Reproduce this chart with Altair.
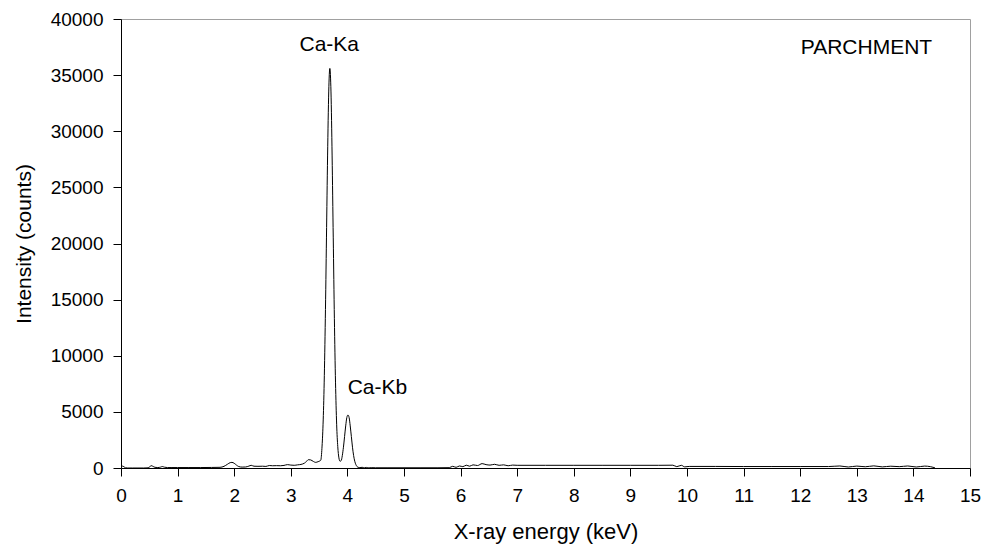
import altair as alt
import pandas as pd

energy = [
    0.02, 0.05, 0.08, 0.12, 0.2, 0.3, 0.4, 0.46, 0.50, 0.53, 0.56, 0.60, 0.65, 0.70, 0.73, 0.77, 0.82,
    0.9, 1.0, 1.2, 1.4, 1.6, 1.75, 1.82, 1.88, 1.93, 1.96, 2.00, 2.04, 2.08, 2.14, 2.2, 2.26, 2.30,
    2.35, 2.42, 2.5, 2.56, 2.62, 2.68, 2.75, 2.82, 2.88, 2.94, 3.0, 3.06, 3.12, 3.18, 3.24, 3.28,
    3.31, 3.35, 3.40, 3.44, 3.48, 3.51,
    3.53, 3.55, 3.57, 3.59, 3.61, 3.63, 3.65, 3.67, 3.69, 3.71, 3.73, 3.75, 3.77, 3.79, 3.81,
    3.83, 3.85, 3.87, 3.89, 3.91, 3.93, 3.95, 3.97, 3.99, 4.01, 4.03, 4.05, 4.07, 4.09, 4.11,
    4.13, 4.15, 4.17, 4.19, 4.22, 4.26, 4.30, 4.34, 4.38, 4.42, 4.5, 4.7, 5.0, 5.3, 5.6, 5.8,
    5.86, 5.92, 5.98, 6.04, 6.10, 6.16, 6.22, 6.30, 6.38, 6.45, 6.52, 6.60, 6.68, 6.76, 6.84, 6.92,
    7.0, 7.5, 8.0, 8.5, 9.0, 9.5, 9.75, 9.82, 9.90, 9.96, 10.04, 10.5, 11.0, 11.5, 12.0, 12.5,
    12.7, 12.85, 13.0, 13.15, 13.3, 13.45, 13.6, 13.75, 13.9, 14.05, 14.2, 14.3, 14.38,
]
counts = [
    180, 120, 20, 0, 0, 0, 0, 10, 60, 210, 160, 60, 40, 80, 130, 70, 40,
    40, 40, 40, 40, 50, 60, 150, 330, 480, 500, 420, 260, 130, 80, 90, 170, 240,
    160, 150, 160, 140, 220, 200, 210, 200, 230, 300, 260, 240, 280, 320, 430, 600,
    740, 720, 580, 500, 560, 620,
    700, 1750, 3900, 7650, 13300, 20500, 27800, 33500, 35600, 33500, 27800, 20500, 13300, 7650, 3900,
    1900, 900, 600, 660, 1100, 1850, 2800, 3750, 4500, 4720, 4500, 3750, 2800, 1850, 1100,
    600, 300, 130, 60, 30, 60, 20, 50, 10, 30, 20, 20, 20, 20, 20, 30,
    150, 60, 180, 120, 250, 160, 280, 220, 390, 300, 260, 330, 240, 280, 200, 260,
    240, 240, 240, 240, 240, 240, 250, 120, 240, 100, 140, 140, 130, 130, 130, 130,
    180, 90, 170, 110, 190, 100, 160, 120, 180, 90, 170, 120, 20,
]

df = pd.DataFrame({"energy": energy, "counts": counts})

label_text = ["Ca-Ka", "Ca-Kb", "PARCHMENT"]
label_x = [3.68, 4.53, 13.17]
label_y = [37700, 7150, 37400]
labels = pd.DataFrame({"t": label_text, "x": label_x, "y": label_y})

x_ticks = list(range(0, 16))
y_ticks = list(range(0, 40001, 5000))

FONT = "Liberation Sans"

xs = alt.Scale(domain=[0, 15], nice=False)
ys = alt.Scale(domain=[0, 40000], nice=False)

line = alt.Chart(df).mark_line(color="black", strokeWidth=1, interpolate="monotone").encode(
    x=alt.X("energy:Q", scale=xs,
            axis=alt.Axis(values=x_ticks, title="X-ray energy (keV)", grid=False,
                          format="d", labelFlush=False, titlePadding=16, titleFontSize=22)),
    y=alt.Y("counts:Q", scale=ys,
            axis=alt.Axis(values=y_ticks, title="Intensity (counts)", grid=False,
                          format="d", titlePadding=16, titleFontSize=21)),
)

text = alt.Chart(labels).mark_text(font=FONT, fontSize=21, color="black",
                                   align="center", baseline="middle").encode(
    x=alt.X("x:Q", scale=xs),
    y=alt.Y("y:Q", scale=ys),
    text="t:N",
)

chart = alt.layer(line, text).properties(
    width=849, height=449,
    autosize=alt.AutoSizeParams(type="none"),
    padding={"left": 121, "top": 19, "right": 11, "bottom": 84},
    background="white",
).configure_view(
    stroke="#a0a0a0", strokeWidth=1,
).configure_axis(
    domainColor="black", tickColor="black", tickSize=8, domainWidth=1, tickWidth=1,
    labelFont=FONT, labelFontSize=19, labelColor="black", labelPadding=10,
    titleFont=FONT, titleFontWeight="normal", titleColor="black",
)

chart.save("out.html", embed_options={"renderer": "svg", "actions": False})
